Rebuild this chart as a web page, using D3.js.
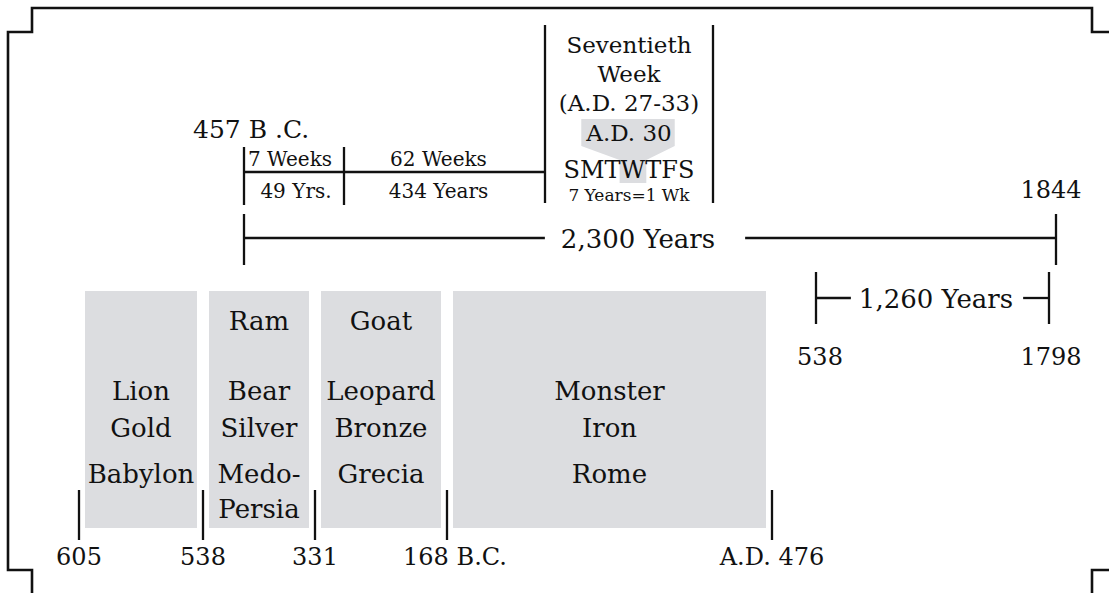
<!DOCTYPE html>
<html>
<head>
<meta charset="utf-8">
<script src="https://cdn.jsdelivr.net/npm/d3@7"></script>
<style>
    body { margin: 0; background: #fff; }
    svg text { font-family: "DejaVu Serif", serif; fill: #111; }
</style>
</head>
<body>
<div id="chart"></div>
<script>
// kingdoms of Daniel 2, 7, 8
const kingdoms = ["Babylon", "Medo-Persia", "Grecia", "Rome"];
const kingdomLines = [["Babylon"], ["Medo-", "Persia"], ["Grecia"], ["Rome"]];
const beasts = ["Lion", "Bear", "Leopard", "Monster"];
const metals = ["Gold", "Silver", "Bronze", "Iron"];
const symbols = ["", "Ram", "Goat", ""];
const kingdomStart = [-605, -538, -331, -168];
const kingdomEnd = [-538, -331, -168, 476];
const eraTicks = [-605, -538, -331, -168, 476];
const eraTickLabels = ["605", "538", "331", "168 B.C.", "A.D. 476"];

// seventy weeks
const weekTicks = [-457, -408, 27, 34];
const weekTopLabels = ["7 Weeks", "62 Weeks"];
const weekBottomLabels = ["49 Yrs.", "434 Years"];
const seventiethLines = ["Seventieth", "Week", "(A.D. 27-33)", "A.D. 30"];
const weekDays = "SMTWTFS";
const crossDay = 3;
const weekNote = "7 Years=1 Wk";

// long periods
const periodStart = [-457, 538];
const periodEnd = [1844, 1798];
const periodLabel = ["2,300 Years", "1,260 Years"];
const periodStartLabel = ["457 B .C.", "538"];
const periodEndLabel = ["1844", "1798"];

class ProphecyChart {
    constructor(_parentElement) {
        this.parentElement = _parentElement;
        this.initVis();
    }

    initVis() {
        let vis = this;
        vis.width = 1109;
        vis.height = 593;

        vis.svg = d3.select("#" + vis.parentElement).append("svg")
            .attr("width", vis.width)
            .attr("height", vis.height);

        // schematic (non-proportional) time scales
        vis.xLow = d3.scaleLinear()
            .domain(eraTicks)
            .range([79, 203, 315, 447, 772]);

        vis.xTop = d3.scaleLinear()
            .domain([-457, -408, 27, 34, 538, 1798, 1844])
            .range([244, 344, 545, 713, 816, 1049, 1056]);

        vis.stroke = "#111";
        vis.grey = "#dcdde0";

        vis.drawFrame();
        vis.drawKingdoms();
        vis.drawWeeks();
        vis.drawPeriods();
    }

    drawFrame() {
        let vis = this;
        let pts = [[32, 593], [32, 570], [8, 570], [8, 32], [32, 32], [32, 8],
                   [1092, 8], [1092, 32], [1109, 32]];
        vis.svg.append("path")
            .attr("d", d3.line()(pts))
            .attr("fill", "none")
            .attr("stroke", vis.stroke)
            .attr("stroke-width", 2.6);
        vis.svg.append("path")
            .attr("d", d3.line()([[1092, 593], [1092, 570], [1109, 570]]))
            .attr("fill", "none")
            .attr("stroke", vis.stroke)
            .attr("stroke-width", 2.6);
    }

    drawKingdoms() {
        let vis = this;
        let inset = 6;
        let g = vis.svg.append("g").attr("class", "kingdoms");

        let k = g.selectAll(".kingdom")
            .data(kingdoms)
            .enter()
            .append("g")
            .attr("class", "kingdom");

        k.append("rect")
            .attr("x", (d, i) => vis.xLow(kingdomStart[i]) + inset)
            .attr("y", 291)
            .attr("width", (d, i) => vis.xLow(kingdomEnd[i]) - vis.xLow(kingdomStart[i]) - 2 * inset)
            .attr("height", 237)
            .attr("fill", vis.grey);

        let cx = i => (vis.xLow(kingdomStart[i]) + vis.xLow(kingdomEnd[i])) / 2;

        k.append("text")
            .attr("x", (d, i) => cx(i))
            .attr("y", 330)
            .attr("text-anchor", "middle")
            .style("font-size", "26px")
            .text((d, i) => symbols[i]);

        k.append("text")
            .attr("x", (d, i) => cx(i))
            .attr("y", 400)
            .attr("text-anchor", "middle")
            .style("font-size", "26px")
            .text((d, i) => beasts[i]);

        k.append("text")
            .attr("x", (d, i) => cx(i))
            .attr("y", 437)
            .attr("text-anchor", "middle")
            .style("font-size", "26px")
            .text((d, i) => metals[i]);

        k.each(function(d, i) {
            d3.select(this).selectAll(".kname")
                .data(kingdomLines[i])
                .enter()
                .append("text")
                .attr("class", "kname")
                .attr("x", cx(i))
                .attr("y", (t, j) => 483 + j * 35)
                .attr("text-anchor", "middle")
                .style("font-size", "26px")
                .text(t => t);
        });

        // era ticks
        g.selectAll(".era-tick")
            .data(eraTicks)
            .enter()
            .append("line")
            .attr("class", "era-tick")
            .attr("x1", d => vis.xLow(d))
            .attr("x2", d => vis.xLow(d))
            .attr("y1", 490)
            .attr("y2", 540)
            .attr("stroke", vis.stroke)
            .attr("stroke-width", 2.3);

        g.selectAll(".era-label")
            .data(eraTicks)
            .enter()
            .append("text")
            .attr("class", "era-label")
            .attr("x", (d, i) => vis.xLow(d) + (i === 3 ? 8 : 0))
            .attr("y", 565)
            .attr("text-anchor", "middle")
            .style("font-size", "24px")
            .text((d, i) => eraTickLabels[i]);
    }

    drawWeeks() {
        let vis = this;
        let g = vis.svg.append("g").attr("class", "weeks");
        let x = vis.xTop;

        // 7 + 62 weeks bar
        g.append("line")
            .attr("x1", x(weekTicks[0])).attr("x2", x(weekTicks[2]))
            .attr("y1", 172).attr("y2", 172)
            .attr("stroke", vis.stroke).attr("stroke-width", 2.3);

        g.selectAll(".wk-tick")
            .data(weekTicks.slice(0, 2))
            .enter()
            .append("line")
            .attr("x1", d => x(d)).attr("x2", d => x(d))
            .attr("y1", 147).attr("y2", 205)
            .attr("stroke", vis.stroke).attr("stroke-width", 2.3);

        // seventieth week box sides
        g.selectAll(".wk70-side")
            .data(weekTicks.slice(2))
            .enter()
            .append("line")
            .attr("x1", d => x(d)).attr("x2", d => x(d))
            .attr("y1", 25).attr("y2", 203)
            .attr("stroke", vis.stroke).attr("stroke-width", 2.3);

        g.append("text")
            .attr("x", x(weekTicks[0]) + 4).attr("y", 166)
            .style("font-size", "20px")
            .text(weekTopLabels[0]);
        g.append("text")
            .attr("x", (x(weekTicks[1]) + x(weekTicks[2])) / 2 - 6).attr("y", 166)
            .attr("text-anchor", "middle")
            .style("font-size", "20px")
            .text(weekTopLabels[1]);
        g.append("text")
            .attr("x", (x(weekTicks[0]) + x(weekTicks[1])) / 2 + 2).attr("y", 198)
            .attr("text-anchor", "middle")
            .style("font-size", "20px")
            .text(weekBottomLabels[0]);
        g.append("text")
            .attr("x", (x(weekTicks[1]) + x(weekTicks[2])) / 2 - 6).attr("y", 198)
            .attr("text-anchor", "middle")
            .style("font-size", "20px")
            .text(weekBottomLabels[1]);

        let cx = (x(weekTicks[2]) + x(weekTicks[3])) / 2;

        // highlight behind "A.D. 30" and the crucifixion day
        let hl = g.append("path").attr("fill", vis.grey);

        g.selectAll(".wk70-line")
            .data(seventiethLines)
            .enter()
            .append("text")
            .attr("class", "wk70-line")
            .attr("x", cx)
            .attr("y", (d, i) => [53, 82, 111, 141][i])
            .attr("text-anchor", "middle")
            .style("font-size", "23px")
            .text(d => d);

        let days = g.append("text")
            .attr("x", cx).attr("y", 178)
            .attr("text-anchor", "middle")
            .style("font-size", "24px")
            .text(weekDays);

        g.append("text")
            .attr("x", cx).attr("y", 201)
            .attr("text-anchor", "middle")
            .style("font-size", "17px")
            .text(weekNote);

        let adBox = g.selectAll(".wk70-line").filter((d, i) => i === 3).node().getBBox();
        let w = days.node().getExtentOfChar(crossDay);
        let l = adBox.x - 4, r = adBox.x + adBox.width + 3;
        let t = 119, b = 146;
        let wl = w.x - 1, wr = w.x + w.width + 1;
        hl.attr("d", d3.line()([[l, t], [r, t], [r, b], [wr, 160], [wr, 183],
                                [wl, 183], [wl, 160], [l, b]]) + "Z");
    }

    drawPeriods() {
        let vis = this;
        let g = vis.svg.append("g").attr("class", "periods");
        let x = vis.xTop;
        let rowY = [238, 298];
        let tickY = [[214, 265], [272, 324]];
        let labelX = [638, 936];
        let gaps = [[16, 30], [8, 10]];

        periodLabel.forEach(function(label, i) {
            let x0 = x(periodStart[i]), x1 = x(periodEnd[i]);
            let txt = g.append("text")
                .attr("x", labelX[i]).attr("y", rowY[i] + 10)
                .attr("text-anchor", "middle")
                .style("font-size", "26px")
                .text(label);
            let bb = txt.node().getBBox();

            g.append("line")
                .attr("x1", x0).attr("x2", bb.x - gaps[i][0])
                .attr("y1", rowY[i]).attr("y2", rowY[i])
                .attr("stroke", vis.stroke).attr("stroke-width", 2.3);
            g.append("line")
                .attr("x1", bb.x + bb.width + gaps[i][1]).attr("x2", x1)
                .attr("y1", rowY[i]).attr("y2", rowY[i])
                .attr("stroke", vis.stroke).attr("stroke-width", 2.3);

            [x0, x1].forEach(function(px) {
                g.append("line")
                    .attr("x1", px).attr("x2", px)
                    .attr("y1", tickY[i][0]).attr("y2", tickY[i][1])
                    .attr("stroke", vis.stroke).attr("stroke-width", 2.3);
            });
        });

        // 457 B.C. and 1844
        g.append("text")
            .attr("x", 193).attr("y", 138)
            .style("font-size", "25px")
            .text(periodStartLabel[0]);
        g.append("text")
            .attr("x", x(periodEnd[0]) - 5).attr("y", 198)
            .attr("text-anchor", "middle")
            .style("font-size", "24px")
            .text(periodEndLabel[0]);

        // 538 and 1798
        g.append("text")
            .attr("x", x(periodStart[1]) + 4).attr("y", 365)
            .attr("text-anchor", "middle")
            .style("font-size", "24px")
            .text(periodStartLabel[1]);
        g.append("text")
            .attr("x", x(periodEnd[1]) + 2).attr("y", 365)
            .attr("text-anchor", "middle")
            .style("font-size", "24px")
            .text(periodEndLabel[1]);
    }
}

new ProphecyChart("chart");
</script>
</body>
</html>
